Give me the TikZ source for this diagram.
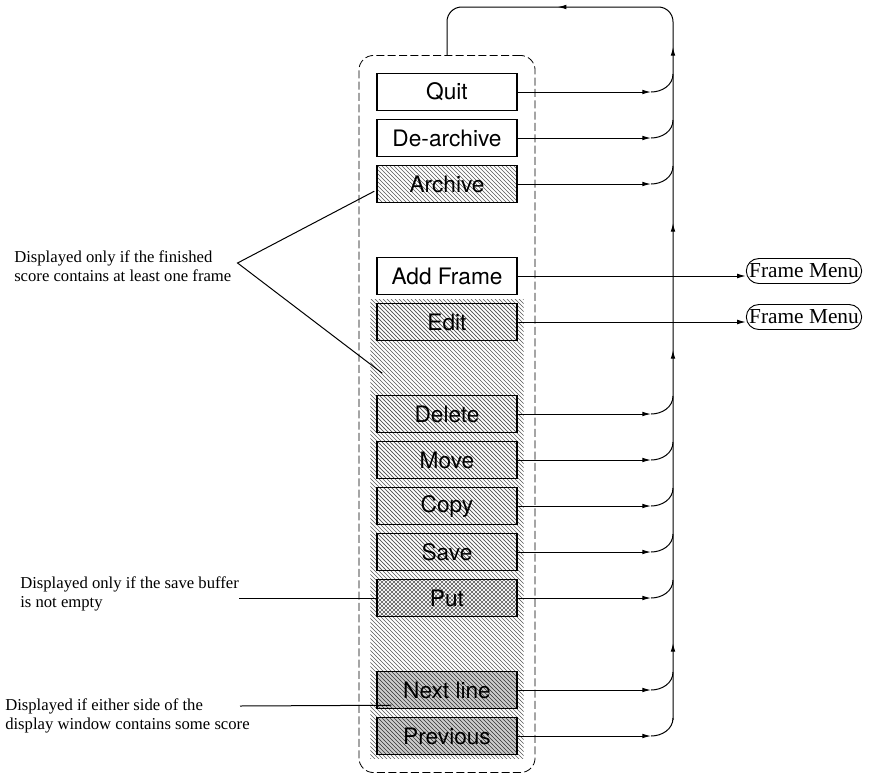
\documentclass[tikz,border=0pt]{standalone}
\usepackage{fontspec}
\setmainfont{Liberation Serif}
\newfontfamily\menufont{TeX Gyre Heros}
\usepackage{tikz}
\usetikzlibrary{arrows.meta,positioning,calc,fit,backgrounds,patterns,shapes.misc,decorations.markings}

\begin{document}
\begin{tikzpicture}[x=0.75pt, y=-0.75pt,
    node distance=5.65pt, >={Latex[length=6.5pt,width=3.5pt]},
    wire/.style={line width=0.75pt},
    menubox/.style={draw, line width=1.1pt, minimum width=105pt, minimum height=27.75pt,
                inner sep=0pt, font=\menufont\fontsize{17}{17}\selectfont},
    plainbox/.style={menubox, fill=white},
    hatchbox/.style={menubox, pattern=north west lines, pattern color=black!65},
    putbox/.style={menubox, preaction={fill=white},
                preaction={pattern=north east lines, pattern color=black!65},
                pattern=north west lines, pattern color=black!65},
    darkbox/.style={menubox, preaction={fill=gray!40}, pattern=north west lines, pattern color=black!80},
    band/.style={pattern=north west lines, pattern color=black!65},
    panel/.style={draw, line width=0.6pt, dash pattern=on 6pt off 2.5pt, rounded corners=11pt},
    remark/.style={align=left, inner sep=0pt, font=\fontsize{12.5}{14}\selectfont},
    outbox/.style={draw, line width=0.7pt, rounded rectangle, minimum width=88.5pt,
                minimum height=18.75pt, inner xsep=1pt, font=\fontsize{16}{16}\selectfont}]
  \useasboundingbox (0,0) rectangle (869,776);

  % menu column
  \node[plainbox] (quit) at (447,92) {Quit};
  \node[plainbox, below=of quit] (dearch) {De-archive};
  \node[hatchbox, below=of dearch] (arch) {Archive};
  \node[plainbox, below=40.15pt of arch] (addframe) {Add Frame};
  \node[hatchbox, below=of addframe] (edit) {Edit};
  \node[hatchbox, below=40.15pt of edit] (delete) {Delete};
  \node[hatchbox, below=of delete] (move) {Move};
  \node[hatchbox, below=of move] (copy) {Copy};
  \node[hatchbox, below=of copy] (save) {Save};
  \node[putbox, below=of save] (put) {Put};
  \node[darkbox, below=40.15pt of put] (next) {Next line};
  \node[darkbox, below=of next] (prev) {Previous};
  \begin{scope}[on background layer]
    \node[band, fit=(edit)(prev), inner xsep=4.5pt, inner ysep=2.5pt] (shaded) {};
  \end{scope}
  \node[panel, fit=(quit)(prev), inner sep=13pt] (panel) {};

  % return bus
  \coordinate (bustop) at (673,7);
  \coordinate (busbot) at (673,720);
  \coordinate (loop) at (447,7);
  \coordinate (tip) at (651,0);
  \draw[wire, rounded corners=11pt, postaction={decorate},
        decoration={markings, mark=at position 57.75pt with {\arrow{>}},
          mark=at position 277.5pt with {\arrow{>}}, mark=at position 372.75pt with {\arrow{>}},
          mark=at position 504.75pt with {\arrow{>}}, mark=at position 616.5pt with {\arrow{>}}}]
    (busbot) -- (bustop) -- (loop) -- (panel.north);
  \foreach \m in {quit,dearch,arch,delete,move,copy,save,put,next,prev} {
    \draw[wire,->] (\m.east) -- (\m.east -| tip);
    \draw[wire] (\m.east -| tip) to[out=0,in=-90] ($(\m.east -| bustop)+(0,-18)$);
  }

  % frame menus
  \node[outbox] (fm1) at (804,271) {Frame Menu};
  \node[outbox] (fm2) at (804,317) {Frame Menu};
  \draw[wire,->] (addframe.east) -- (addframe.east -| fm1.west);
  \draw[wire,->] (edit.east) -- (edit.east -| fm2.west);

  % notes on the left
  \node[remark, anchor=west] (finished) at (14,266) {Displayed only if the finished\\score contains at least one frame};
  \coordinate (fork) at ($(finished.east)+(6,-3)$);
  \draw[wire] ($(arch.south west)+(-2,-12)$) -- (fork) -- ($(edit.south west)+(6,32)$);
  \node[remark, anchor=west] (buffer) at (20,594) {Displayed only if the save buffer\\is not empty};
  \draw[wire] (buffer.east |- put.west) -- (put.west);
  \node[remark, anchor=west] (either) at (5,716) {Displayed if either side of the\\display window contains some score};
  \coordinate (eitherend) at (240,706);
  \draw[wire] (eitherend) -- ($(next.south west)+(15,-4)$);
\end{tikzpicture}
\end{document}
